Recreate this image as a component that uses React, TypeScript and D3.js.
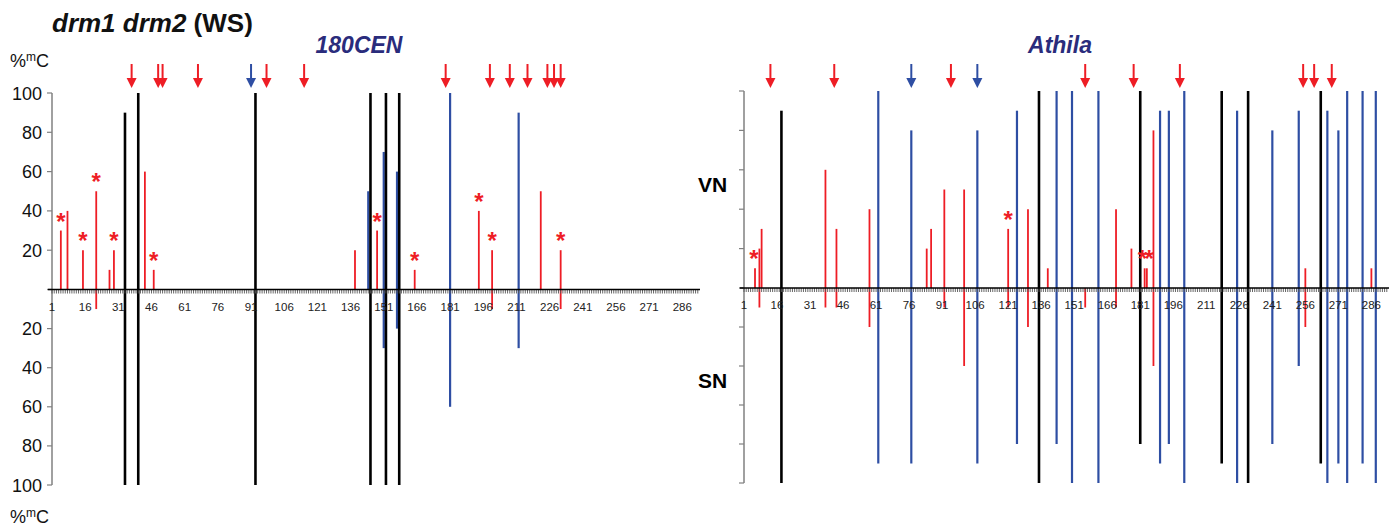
import React from 'react';
import * as d3 from 'd3';

// [position, VN %mC, SN %mC]
const cenCHH = [[5,30,0],[8,40,0],[15,20,0],[21,50,10],[27,10,0],[29,20,0],[43,60,0],[47,10,0],[138,20,0],[148,30,0],[165,10,0],[194,40,0],[200,20,10],[222,50,0],[231,20,10]];
const cenCHG = [[144,50,0],[151,70,30],[157,60,20],[181,100,60],[212,90,30]];
const cenCG = [[34,90,100],[40,100,100],[93,100,100],[145,100,100],[152,100,100],[158,100,100]];
// [position, %mC level the star sits above]
const cenStars = [[5,30],[15,20],[21,50],[29,20],[47,10],[148,30],[165,10],[194,40],[200,20],[231,20]];
const cenRedArrows = [37,49,51,67,98,115,179,199,208,216,225,228,231];
const cenBlueArrows = [91];

const athCHH = [[6,10,0],[8,20,10],[9,30,0],[38,60,10],[43,30,10],[58,40,20],[84,20,0],[86,30,0],[92,50,10],[101,50,40],[121,30,10],[130,40,20],[139,10,0],[156,0,10],[170,40,10],[177,20,0],[183,10,0],[184,10,0],[187,80,40],[256,10,20],[286,10,0]];
const athCHG = [[62,100,90],[77,80,90],[107,80,90],[125,90,80],[143,100,80],[150,100,100],[162,100,100],[190,90,90],[194,90,80],[201,100,100],[225,90,100],[241,80,80],[253,90,40],[266,90,100],[271,80,90],[275,100,100],[282,100,90],[288,100,100]];
const athCG = [[18,90,100],[135,100,100],[181,100,80],[218,100,90],[230,100,100],[263,100,90]];
const athStars = [[5.5,10],[121,30],[182,10],[185,10]];
const athRedArrows = [13,42,95,156,178,199,255,260,268];
const athBlueArrows = [77,107];

const xTickLabels = d3.range(1, 287, 15);
const yTickValues = [0, 20, 40, 60, 80, 100];
const categoryCount = 293;

const RED = '#EE1D25';
const BLUE = '#2E4EA3';
const NAVY = '#2A2C7C';
const FONT = '"Liberation Sans", Arial, Helvetica, sans-serif';

const Panel = ({ x0, x1, yTop, yZero, yBottom, chh, chg, cg, stars, redArrows, blueArrows, showYLabels }) => {
  const x = d3.scaleLinear().domain([1, categoryCount + 1]).range([x0, x1]);
  const yUp = d3.scaleLinear().domain([0, 100]).range([yZero, yTop]);
  const yDown = d3.scaleLinear().domain([0, 100]).range([yZero, yBottom]);

  const bars = (data, color, w) => data.map(([p, vn, sn], i) => (
    <g key={color + i}>
      {vn > 0 && <line x1={x(p)} x2={x(p)} y1={yZero} y2={yUp(vn)} stroke={color} strokeWidth={w} />}
      {sn > 0 && <line x1={x(p)} x2={x(p)} y1={yZero} y2={yDown(sn)} stroke={color} strokeWidth={w} />}
    </g>
  ));

  const arrow = (p, color, k) => {
    const cx = x(p);
    return (
      <g key={k}>
        <line x1={cx} x2={cx} y1={64} y2={80} stroke={color} strokeWidth={2} />
        <path d={`M${cx - 5},78L${cx + 5},78L${cx},88Z`} fill={color} />
      </g>
    );
  };

  return (
    <g>
      {/* y axis */}
      <line x1={x0} x2={x0} y1={yTop} y2={yBottom} stroke="#808080" strokeWidth={1.5} />
      {yTickValues.map(v => (
        <g key={'yt' + v}>
          <line x1={x0 - 5} x2={x0} y1={yUp(v)} y2={yUp(v)} stroke="#808080" strokeWidth={1.2} />
          <line x1={x0 - 5} x2={x0} y1={yDown(v)} y2={yDown(v)} stroke="#808080" strokeWidth={1.2} />
          {showYLabels && v > 0 && (
            <>
              <text x={x0 - 10} y={yUp(v) + 6.5} textAnchor="end" fontSize={18} fontFamily={FONT} fill="#111">{v}</text>
              <text x={x0 - 10} y={yDown(v) + 6.5} textAnchor="end" fontSize={18} fontFamily={FONT} fill="#111">{v}</text>
            </>
          )}
        </g>
      ))}

      {/* bars */}
      {bars(chh, RED, 1.8)}
      {bars(chg, BLUE, 2.2)}
      {bars(cg, '#000', 2.6)}

      {/* x axis with a tick per position */}
      {d3.range(1, categoryCount + 1).map(i => (
        <line key={'xt' + i} x1={x(i)} x2={x(i)} y1={yZero} y2={yZero + 4} stroke="#555" strokeWidth={0.9} />
      ))}
      <line x1={x0 - 4} x2={x1} y1={yZero} y2={yZero} stroke="#000" strokeWidth={1.6} />
      {xTickLabels.map(v => (
        <text key={'xl' + v} x={x(v)} y={yZero + 21} textAnchor="middle" fontSize={11.5} fontFamily={FONT} fill="#222">{v}</text>
      ))}

      {/* significance stars */}
      {stars.map(([p, lvl], i) => (
        <text key={'st' + i} x={x(p)} y={yUp(lvl) - 1} textAnchor="middle" fontSize={24} fontWeight="bold" fontFamily={FONT} fill={RED}>*</text>
      ))}

      {/* arrows */}
      {redArrows.map((p, i) => arrow(p, RED, 'ra' + i))}
      {blueArrows.map((p, i) => arrow(p, BLUE, 'ba' + i))}
    </g>
  );
};

export default function App() {
  return (
    <div style={{ position: 'absolute', left: 0, top: 0 }}>
      <svg width={1390} height={526} style={{ display: 'block', background: '#fff' }}>
        <text x={52} y={32} fontSize={26} fontWeight="bold" fontFamily={FONT} fill="#111">
          <tspan fontStyle="italic">drm1 drm2</tspan> (WS)
        </text>
        <text x={359} y={53} textAnchor="middle" fontSize={23} fontWeight="bold" fontStyle="italic" fontFamily={FONT} fill={NAVY}>180CEN</text>
        <text x={1060} y={53} textAnchor="middle" fontSize={23} fontWeight="bold" fontStyle="italic" fontFamily={FONT} fill={NAVY}>Athila</text>

        <text x={10} y={67} fontSize={18} fontFamily={FONT} fill="#111">%<tspan fontSize={12} dy={-6}>m</tspan><tspan dy={6}>C</tspan></text>
        <text x={10} y={523} fontSize={18} fontFamily={FONT} fill="#111">%<tspan fontSize={12} dy={-6}>m</tspan><tspan dy={6}>C</tspan></text>

        <text x={698} y={192} fontSize={21} fontWeight="bold" fontFamily={FONT} fill="#000">VN</text>
        <text x={698} y={388} fontSize={21} fontWeight="bold" fontFamily={FONT} fill="#000">SN</text>

        <Panel x0={52} x1={700} yTop={93} yZero={289.5} yBottom={485}
          chh={cenCHH} chg={cenCHG} cg={cenCG} stars={cenStars}
          redArrows={cenRedArrows} blueArrows={cenBlueArrows} showYLabels />
        <Panel x0={744} x1={1389} yTop={91} yZero={288} yBottom={483}
          chh={athCHH} chg={athCHG} cg={athCG} stars={athStars}
          redArrows={athRedArrows} blueArrows={athBlueArrows} showYLabels={false} />
      </svg>
    </div>
  );
}
